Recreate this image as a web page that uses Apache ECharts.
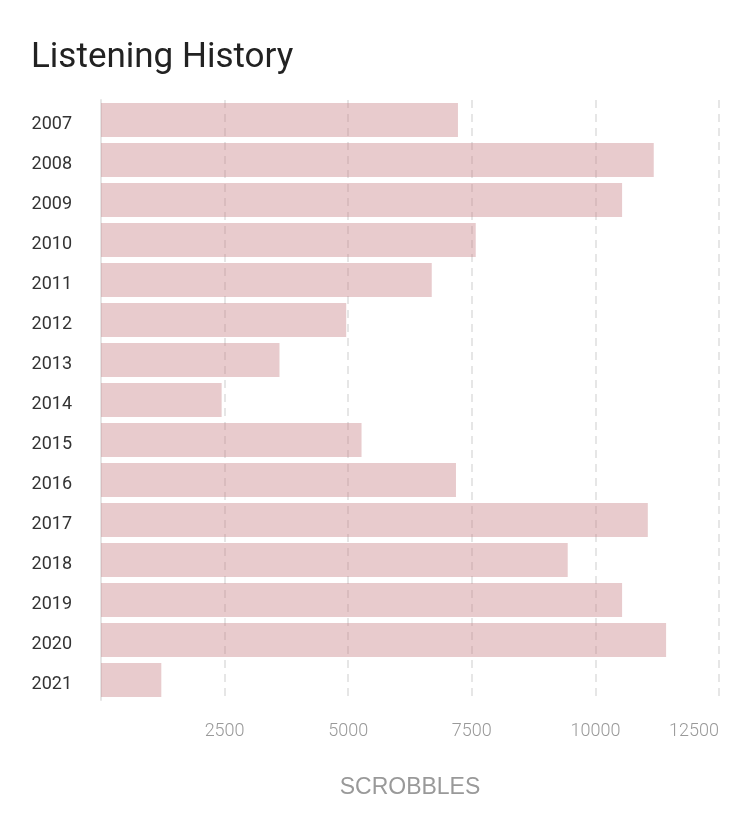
<!DOCTYPE html>
<html>
<head>
<meta charset="utf-8">
<title>Listening History</title>
<script src="https://cdn.jsdelivr.net/npm/echarts@6/dist/echarts.min.js"></script>
<style>
  html, body { margin: 0; padding: 0; background: #fff; }
  #chart { width: 750px; height: 826px; }
</style>
</head>
<body>
<div id="chart"></div>
<script>
// years shown on the category axis, top to bottom
const years = ['2007', '2008', '2009', '2010', '2011', '2012', '2013', '2014',
  '2015', '2016', '2017', '2018', '2019', '2020', '2021'];

// scrobbles per year
const scrobbles = [7220, 11180, 10540, 7580, 6690, 4960, 3610, 2440,
  5270, 7180, 11060, 9440, 10540, 11430, 1220];

const chart = echarts.init(document.getElementById('chart'));

const option = {
  animation: false,
  title: {
    text: 'Listening History',
    left: 26,
    top: 36,
    textStyle: {
      fontFamily: 'Roboto',
      fontSize: 35,
      fontWeight: 400,
      color: '#222'
    }
  },
  grid: {
    left: 101,
    right: 31,
    top: 100,
    bottom: 126,
    containLabel: false
  },
  xAxis: {
    type: 'value',
    min: 0,
    max: 12500,
    interval: 2500,
    name: 'SCROBBLES',
    nameLocation: 'middle',
    nameGap: 76,
    nameTextStyle: {
      fontFamily: 'Liberation Sans',
      fontSize: 23,
      color: '#999'
    },
    axisLine: { show: false },
    axisTick: { show: false },
    axisLabel: {
      showMinLabel: false,
      alignMaxLabel: 'right',
      margin: 22,
      fontFamily: 'Roboto',
      fontSize: 18,
      fontWeight: 300,
      color: '#999',
      formatter: v => String(v)
    },
    splitLine: {
      show: true,
      lineStyle: {
        color: '#e6e6e6',
        width: 2,
        type: [8, 6]
      }
    }
  },
  yAxis: {
    type: 'category',
    data: years,
    inverse: true,
    axisLine: {
      show: true,
      lineStyle: { color: '#e6e6e6', width: 2 }
    },
    axisTick: { show: false },
    axisLabel: {
      margin: 29,
      formatter: v => '{y|' + v + '}',
      rich: {
        y: {
          fontFamily: 'Roboto',
          fontSize: 18,
          color: '#333',
          padding: [8, 0, 0, 0]
        }
      }
    }
  },
  series: [
    {
      name: 'Scrobbles',
      type: 'bar',
      data: scrobbles,
      barCategoryGap: '15%',
      itemStyle: {
        color: 'rgba(198, 125, 130, 0.4)'
      }
    }
  ]
};

chart.setOption(option);
</script>
</body>
</html>
